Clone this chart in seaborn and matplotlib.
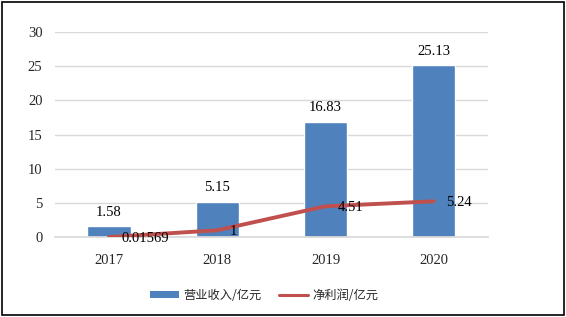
import matplotlib
matplotlib.use("Agg")
import matplotlib.pyplot as plt
import seaborn as sns
import pandas as pd
from matplotlib.patches import Rectangle, Patch
from matplotlib.lines import Line2D

years = ["2017", "2018", "2019", "2020"]
revenue = [1.58, 5.15, 16.83, 25.13]
profit = [0.01569, 1, 4.51, 5.24]
revenue_labels = ["1.58", "5.15", "16.83", "25.13"]
profit_labels = ["0.01569", "1", "4.51", "5.24"]
series_names = ["营业收入/亿元", "净利润/亿元"]

sns.set_theme(style="white")
plt.rcParams['font.family'] = ['Liberation Serif', 'Noto Sans CJK SC']

df = pd.DataFrame({"year": years, "revenue": revenue, "profit": profit})

fig = plt.figure(figsize=(5.66, 3.17), dpi=100)
ax = fig.add_axes([0.097, 0.252, 0.765, 0.647])

bar_color = "#4F81BD"
line_color = "#C0504D"

sns.barplot(data=df, x="year", y="revenue", color=bar_color, width=0.4,
            saturation=1, ax=ax, zorder=2)
sns.lineplot(x=list(range(len(years))), y=df["profit"], color=line_color,
             linewidth=2.8, ax=ax, zorder=3)

ax.set_ylim(0, 30)
ax.set_xlim(-0.5, 3.5)
ax.set_yticks([0, 5, 10, 15, 20, 25, 30])
ax.yaxis.grid(True, color="#D9D9D9", linewidth=1)
ax.set_axisbelow(True)
for s in ["top", "right", "left"]:
    ax.spines[s].set_visible(False)
ax.spines["bottom"].set_color("#D9D9D9")
ax.set_xlabel("")
ax.set_ylabel("")
ax.tick_params(axis="y", length=0, pad=9, labelsize=10.5)
ax.tick_params(axis="x", length=0, pad=12, labelsize=10.5)

for i, (v, lab) in enumerate(zip(revenue, revenue_labels)):
    ax.annotate(lab, (i, v), xytext=(0, 5.5), textcoords="offset points",
                ha="center", va="bottom", fontsize=10.5, color="black")
for i, (v, lab) in enumerate(zip(profit, profit_labels)):
    ax.annotate(lab, (i, v), xytext=(9, -1), textcoords="offset points",
                ha="left", va="center", fontsize=10.5, color="black", zorder=5)

handles = [Patch(facecolor=bar_color, edgecolor="none"),
           Line2D([0], [0], color=line_color, linewidth=2.2)]
fig.legend(handles, series_names, loc="center", bbox_to_anchor=(0.467, 0.069),
           ncol=2, frameon=False, handlelength=2.4, handleheight=0.55,
           columnspacing=1.4, handletextpad=0.35,
           prop={"family": ["Noto Sans CJK SC"], "size": 8.8})

fig.patches.append(Rectangle((0.004, 0.006), 0.992, 0.988, transform=fig.transFigure,
                             fill=False, edgecolor="black", linewidth=1.2))

fig.savefig("out.png", dpi=100)
